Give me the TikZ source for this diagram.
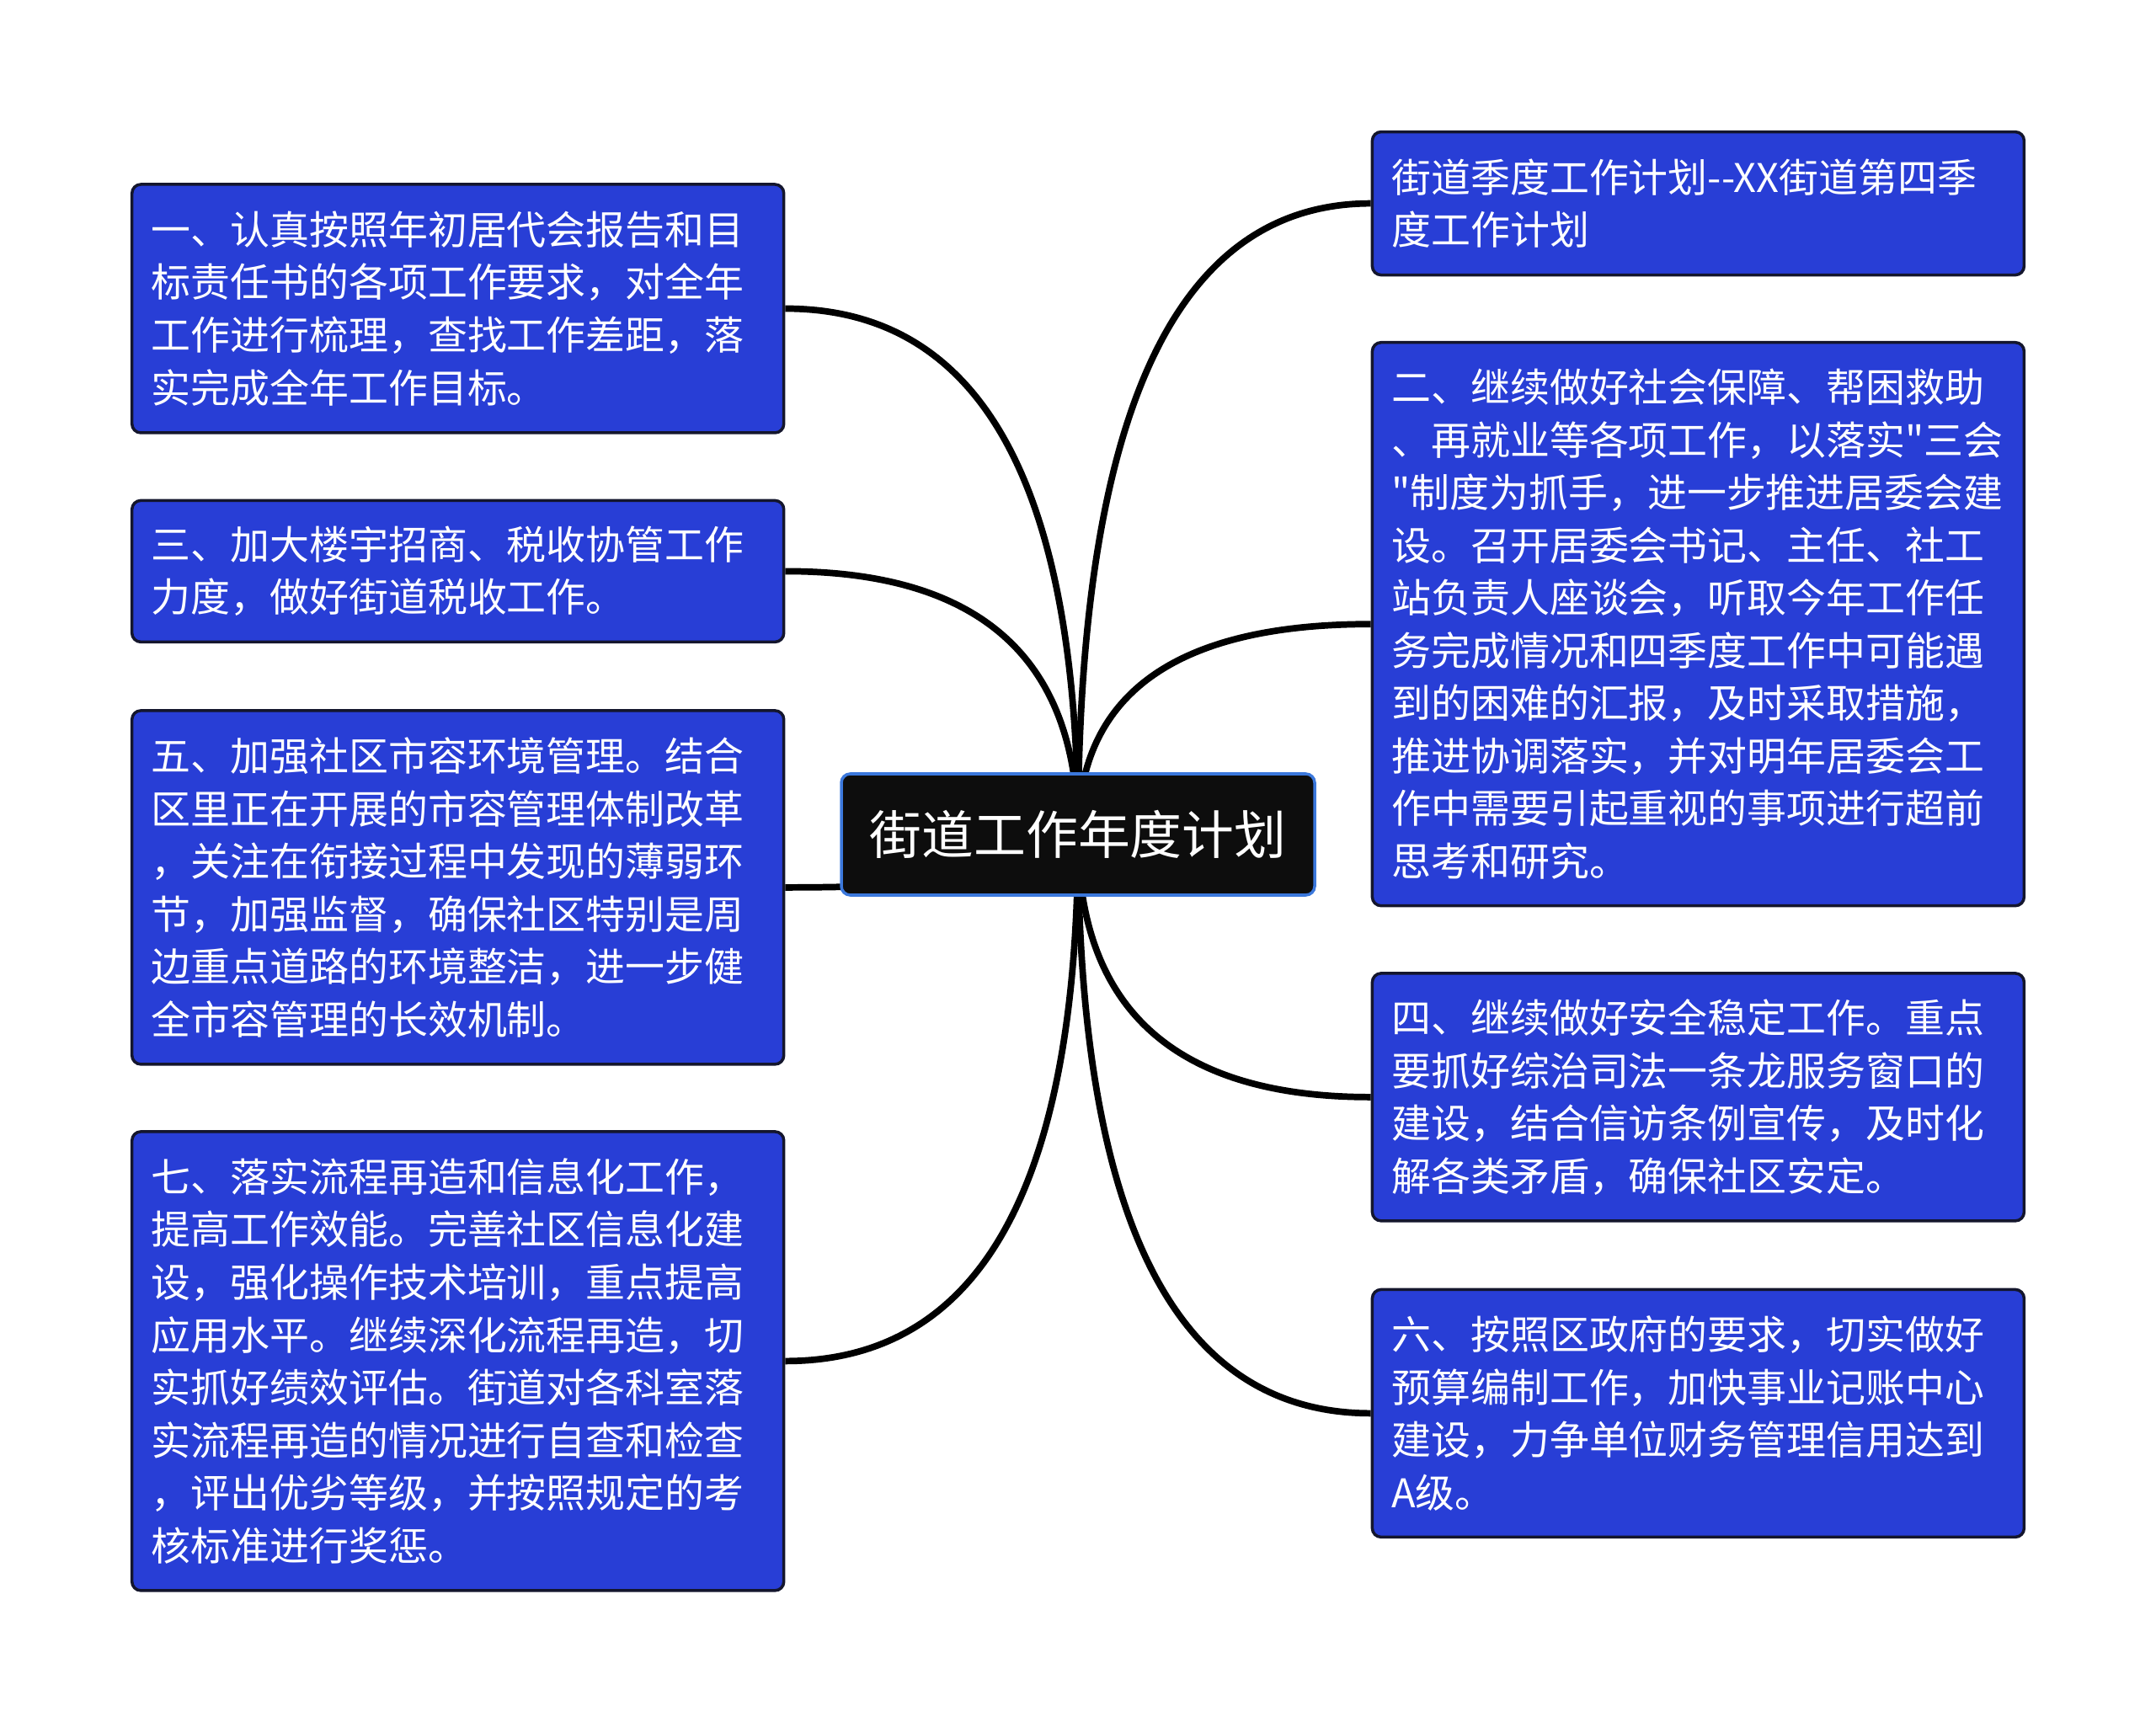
\documentclass[tikz,border=0pt]{standalone}
\usepackage{fontspec}
\newfontfamily\cjk{Noto Sans CJK SC}
\usetikzlibrary{backgrounds,calc}
\definecolor{boxblue}{RGB}{40,62,214}
\definecolor{boxline}{RGB}{20,22,45}
\definecolor{rootline}{RGB}{59,120,220}
\definecolor{rootfill}{RGB}{13,13,13}
\tikzset{
	topic/.style={draw=boxline, line width=1pt, fill=boxblue, rounded corners=3pt,
		text=white, font=\cjk\fontsize{13.35}{17.8}\selectfont, align=left,
		text width=7.28cm, inner xsep=0.23cm, inner ysep=0pt},
	root/.style={draw=rootline, line width=1pt, fill=rootfill, rounded corners=3pt,
		text=white, font=\cjk\fontsize{17.6}{21}\selectfont,
		minimum width=5.62cm, minimum height=1.44cm},
	branch/.style={line width=2.2pt, black}
}

\begin{document}
\begin{tikzpicture}
			%%%%% START %%%%%
			\useasboundingbox (0,0) rectangle (25.6,-20.45);
			
			\node[root] (plan) at (12.80,-9.91) {街道工作年度计划};
			
			% left side
			\node[topic, minimum height=2.95cm] (one) at (5.437,-3.665) {一、认真按照年初居代会报告和目\\标责任书的各项工作要求，对全年\\工作进行梳理，查找工作差距，落\\实完成全年工作目标。};
			\node[topic, minimum height=1.68cm] (three) at (5.437,-6.784) {三、加大楼宇招商、税收协管工作\\力度，做好街道税收工作。};
			\node[topic, minimum height=4.20cm] (five) at (5.437,-10.539) {五、加强社区市容环境管理。结合\\区里正在开展的市容管理体制改革\\，关注在衔接过程中发现的薄弱环\\节，加强监督，确保社区特别是周\\边重点道路的环境整洁，进一步健\\全市容管理的长效机制。};
			\node[topic, minimum height=5.45cm] (seven) at (5.437,-16.164) {七、落实流程再造和信息化工作，\\提高工作效能。完善社区信息化建\\设，强化操作技术培训，重点提高\\应用水平。继续深化流程再造，切\\实抓好绩效评估。街道对各科室落\\实流程再造的情况进行自查和检查\\，评出优劣等级，并按照规定的考\\核标准进行奖惩。};
			
			% right side
			\node[topic, minimum height=1.70cm] (quarter) at (20.164,-2.416) {街道季度工作计划-{}-XX街道第四季\\度工作计划};
			\node[topic, minimum height=6.69cm] (two) at (20.164,-7.412) {二、继续做好社会保障、帮困救助\\、再就业等各项工作，以落实"三会\\"制度为抓手，进一步推进居委会建\\设。召开居委会书记、主任、社工\\站负责人座谈会，听取今年工作任\\务完成情况和四季度工作中可能遇\\到的困难的汇报，及时采取措施，\\推进协调落实，并对明年居委会工\\作中需要引起重视的事项进行超前\\思考和研究。};
			\node[topic, minimum height=2.94cm] (four) at (20.164,-13.029) {四、继续做好安全稳定工作。重点\\要抓好综治司法一条龙服务窗口的\\建设，结合信访条例宣传，及时化\\解各类矛盾，确保社区安定。};
			\node[topic, minimum height=2.94cm] (six) at (20.164,-16.784) {六、按照区政府的要求，切实做好\\预算编制工作，加快事业记账中心\\建设，力争单位财务管理信用达到\\A级。};
			
			% branches
			\begin{pgfonlayer}{background}
			\foreach \t in {one,three,five,seven}
				\draw[branch] (plan.center) .. controls ($(plan.center)!0.667!(plan.center |- \t.east)$) and ($(\t.east)!0.667!(plan.center |- \t.east)$) .. (\t.east);
			\foreach \t in {quarter,two,four,six}
				\draw[branch] (plan.center) .. controls ($(plan.center)!0.667!(plan.center |- \t.west)$) and ($(\t.west)!0.667!(plan.center |- \t.west)$) .. (\t.west);
			\end{pgfonlayer}
			%%%%% END %%%%%
		\end{tikzpicture}
\end{document}
